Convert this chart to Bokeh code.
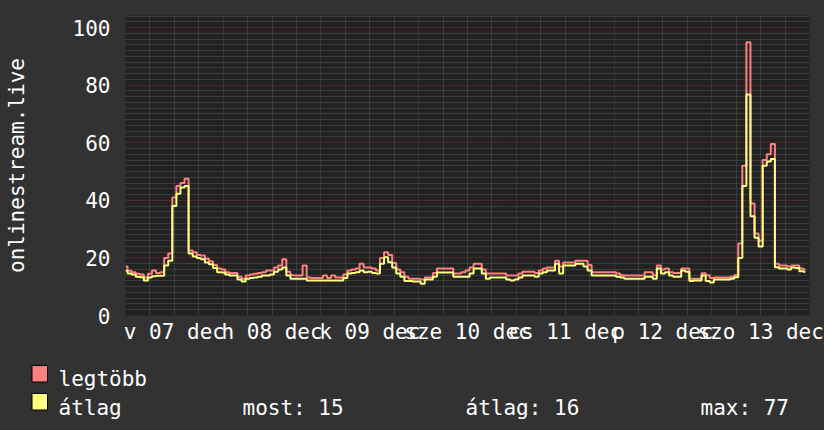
from bokeh.plotting import figure
from bokeh.models import Range1d, FixedTicker
from bokeh.embed import file_html
from bokeh.resources import INLINE
from bokeh.core.properties import value

# ---- data (hourly samples, 7 days) ----
day_labels = ["v 07 dec", "h 08 dec", "k 09 dec", "sze 10 dec", "cs 11 dec", "p 12 dec", "szo 13 dec"]

avg_07 = [15.5, 14.6, 14.2, 13.5, 13.3, 12.2, 13.2, 13.6, 13.8, 13.8, 17.4, 19.0, 38.0, 42.3, 44.5, 45.0, 21.5, 20.5, 20.0, 19.5, 18.4, 17.8, 16.5, 15.0]
max_07 = [17.0, 15.5, 15.0, 14.5, 14.2, 13.2, 14.5, 15.6, 14.8, 15.0, 20.0, 21.5, 41.0, 45.0, 46.0, 47.5, 22.6, 22.0, 21.0, 20.8, 19.7, 18.8, 17.5, 16.3]
avg_08 = [14.9, 14.2, 13.9, 13.9, 12.5, 11.8, 12.8, 13.0, 13.2, 13.5, 13.9, 13.9, 14.2, 15.2, 16.0, 16.7, 13.9, 12.8, 12.8, 12.8, 12.8, 12.2, 12.2, 12.2]
max_08 = [16.0, 15.0, 14.8, 14.8, 13.5, 12.8, 13.9, 14.2, 14.5, 14.8, 15.0, 15.6, 15.6, 16.7, 17.4, 19.5, 15.2, 14.0, 13.9, 13.9, 17.4, 13.2, 13.0, 13.0]
avg_09 = [12.2, 12.2, 12.2, 12.2, 12.2, 12.2, 13.0, 14.6, 14.8, 15.0, 15.6, 15.0, 15.2, 14.8, 14.6, 18.0, 20.2, 18.5, 16.7, 14.6, 13.5, 12.0, 12.0, 11.8]
max_09 = [13.0, 13.9, 13.0, 13.9, 13.2, 13.2, 14.2, 15.6, 16.0, 16.3, 18.0, 16.7, 16.7, 16.3, 15.6, 20.0, 22.0, 21.0, 18.2, 16.0, 15.0, 13.5, 12.8, 12.8]
avg_10 = [11.8, 11.0, 12.5, 12.5, 13.5, 14.9, 14.9, 14.9, 14.9, 13.5, 13.5, 13.5, 13.5, 14.6, 16.3, 16.3, 14.6, 12.8, 13.2, 13.2, 13.2, 13.2, 12.5, 12.2]
max_10 = [12.8, 12.5, 13.2, 13.2, 14.8, 16.3, 16.3, 16.3, 16.3, 14.6, 14.6, 15.0, 15.6, 16.7, 18.0, 18.0, 16.0, 14.6, 14.6, 14.6, 14.6, 14.6, 13.9, 13.9]
avg_11 = [12.5, 13.2, 13.9, 13.9, 13.9, 13.5, 14.6, 15.0, 15.6, 15.6, 18.0, 14.6, 17.4, 17.4, 17.4, 18.0, 18.0, 17.0, 15.6, 13.9, 13.9, 13.9, 13.9, 13.9]
max_11 = [13.9, 14.6, 15.2, 15.2, 15.2, 14.8, 15.6, 16.3, 16.7, 16.7, 19.0, 17.0, 18.4, 18.4, 18.4, 19.0, 19.0, 19.0, 17.5, 15.0, 15.0, 15.0, 15.0, 15.0]
avg_12 = [13.9, 13.5, 13.2, 12.8, 12.8, 12.8, 12.8, 12.8, 13.5, 13.5, 12.8, 16.3, 14.6, 15.0, 13.9, 13.5, 13.5, 15.6, 15.2, 12.0, 12.2, 12.2, 13.9, 12.0]
max_12 = [15.0, 14.6, 14.0, 13.9, 13.9, 13.9, 13.9, 13.9, 15.0, 15.0, 14.0, 17.4, 16.0, 16.3, 15.0, 14.8, 14.8, 16.3, 16.3, 12.8, 12.8, 12.8, 14.7, 14.0]
avg_13 = [11.5, 12.5, 12.5, 12.5, 12.5, 12.8, 13.3, 20.0, 45.0, 76.8, 34.5, 27.0, 24.0, 52.0, 53.5, 54.4, 16.8, 16.3, 16.3, 16.0, 16.7, 16.5, 15.4, 15.2]
max_13 = [13.0, 13.2, 13.2, 13.2, 13.2, 13.5, 14.0, 25.0, 52.0, 94.9, 38.9, 28.5, 26.0, 54.0, 56.0, 59.6, 18.0, 17.4, 17.4, 17.0, 17.4, 17.4, 16.3, 16.0]

avg_vals = avg_07 + avg_08 + avg_09 + avg_10 + avg_11 + avg_12 + avg_13
max_vals = max_07 + max_08 + max_09 + max_10 + max_11 + max_12 + max_13
hours = list(range(len(avg_vals)))

legend_names = ["legtöbb", "átlag"]
stat_texts = ["most: 15", "átlag: 16", "max: 77"]
y_label = "onlinestream.live"

# ---- styles / layout ----
FONT = "DejaVu Sans Mono"
FS = "21px"
BG = "#323232"
PLOT_BG = "#222222"
RED = "#ff8080"
YELLOW = "#ffff80"
MINOR = "#555555"
MAJOR = "#6e2e2e"

NDAYS = 7
YMAX = 104.2
W = 824
H_MAIN, H_LEG = 348, 82

p = figure(width=W, height=H_MAIN, x_range=Range1d(0, 24 * NDAYS), y_range=Range1d(0, YMAX),
           output_backend="svg", toolbar_location=None,
           min_border_left=125, min_border_right=15, min_border_top=15, min_border_bottom=33)
p.background_fill_color = PLOT_BG
p.border_fill_color = BG
p.outline_line_color = None

day_ticks = [24 * i for i in range(NDAYS + 1)]
six_ticks = [h for h in range(0, 24 * NDAYS + 1, 6) if h % 24 != 0]
y_major = list(range(0, 101, 20))
y_minor = [v for v in range(0, 105, 2) if v % 20 != 0]

p.xgrid.ticker = FixedTicker(ticks=day_ticks, minor_ticks=six_ticks)
p.ygrid.ticker = FixedTicker(ticks=y_major, minor_ticks=y_minor)
for g in (p.xgrid, p.ygrid):
    g.grid_line_color = MAJOR
    g.grid_line_dash = "1 1"
    g.grid_line_width = 1
    g.minor_grid_line_color = MINOR
    g.minor_grid_line_dash = "1 1"
    g.minor_grid_line_width = 1

noon_ticks = [24 * i + 12 for i in range(NDAYS)]
p.xaxis.ticker = FixedTicker(ticks=noon_ticks)
p.xaxis.major_label_overrides = {t: lab for t, lab in zip(noon_ticks, day_labels)}
p.yaxis.ticker = FixedTicker(ticks=y_major)
for ax in (p.xaxis, p.yaxis):
    ax.axis_line_color = None
    ax.major_tick_line_color = None
    ax.minor_tick_line_color = None
    ax.major_tick_out = 0
    ax.major_tick_in = 0
    ax.minor_tick_out = 0
    ax.major_label_text_color = "white"
    ax.major_label_text_font = FONT
    ax.major_label_text_font_size = FS
p.xaxis.major_label_standoff = 4
p.yaxis.major_label_standoff = 15
p.yaxis.axis_label = y_label
p.yaxis.axis_label_text_color = "white"
p.yaxis.axis_label_text_font = FONT
p.yaxis.axis_label_text_font_size = FS
p.yaxis.axis_label_text_font_style = "normal"
p.yaxis.axis_label_text_baseline = "bottom"
p.yaxis.axis_label_standoff = 41

p.step(hours, max_vals, mode="center", line_color=RED, line_width=2)
p.step(hours, avg_vals, mode="center", line_color=YELLOW, line_width=2)

# ---- legend strip (separate root, directly below) ----
lg = figure(width=W, height=H_LEG, x_range=Range1d(0, W), y_range=Range1d(H_LEG, 0),
            output_backend="svg", toolbar_location=None, min_border=0,
            min_border_left=0, min_border_right=0, min_border_top=0, min_border_bottom=0)
lg.axis.visible = False
lg.grid.visible = False
lg.outline_line_color = None
lg.background_fill_color = BG
lg.border_fill_color = BG

lg.quad(left=[31.5, 31.5], right=[47, 47], top=[17, 45], bottom=[33.5, 61.5],
        fill_color=[RED, YELLOW], line_color="black", line_width=1)
lg.text(x=[58, 58], y=[30, 59], text=legend_names, text_font=value(FONT), text_font_size=FS,
        text_color="white", text_baseline="alphabetic")
lg.text(x=[242, 465, 700], y=[59, 59, 59], text=stat_texts, text_font=value(FONT), text_font_size=FS,
        text_color="white", text_baseline="alphabetic")

html = file_html([p, lg], INLINE)
i = html.rfind("</head>")
if i != -1:
    html = html[:i] + "<style>html, body { background-color: #323232; }</style>\n" + html[i:]
open("out.html", "w").write(html)
